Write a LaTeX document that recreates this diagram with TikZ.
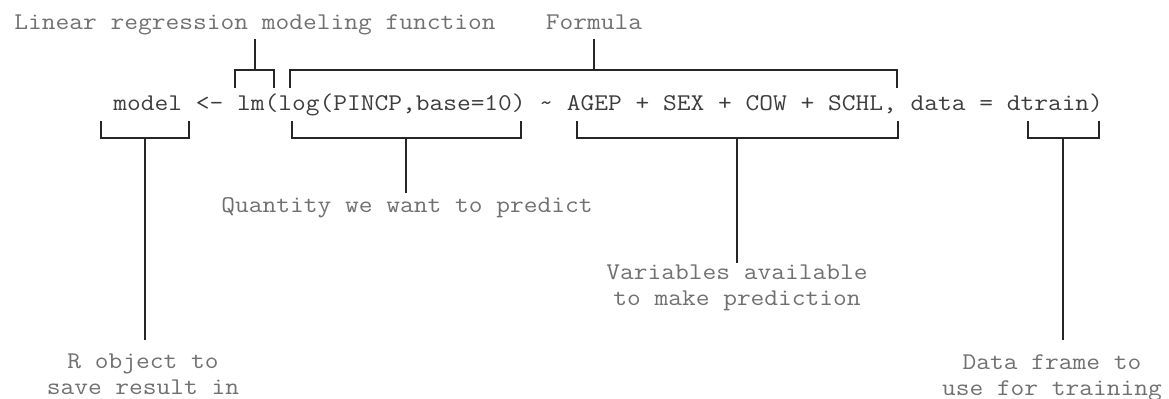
\documentclass[tikz,border=0pt]{standalone}
\usepackage{fontspec}
\setmonofont[FakeStretch=1.112]{Latin Modern Mono}
\definecolor{codegray}{HTML}{3C3C3C}
\definecolor{lblgray}{HTML}{707070}
\definecolor{linegray}{HTML}{262626}
\begin{document}
\begin{tikzpicture}[x=0.5pt, y=-0.5pt,
    every node/.style={font=\ttfamily\fontsize{12}{13}\selectfont, inner sep=0pt},
    codetext/.style={text=codegray, anchor=base west},
    lbl/.style={text=lblgray, align=center},
    brk/.style={draw=linegray, line width=1pt}]
      \useasboundingbox (0,0) rectangle (1169,399);

      % the call itself
      \node[codetext] (line) at (113,111)
        {model <- lm(log(PINCP,base=10) \textasciitilde{} AGEP + SEX + COW + SCHL, data = dtrain)};

      % labels above
      \node[lbl, anchor=base, text depth=0.25em] (fnlabel) at (255,30) {Linear regression modeling function};
      \node[lbl, anchor=base, text depth=0.25em] (fmlabel) at (594,30) {Formula};

      % labels below
      \node[lbl, anchor=north] (qlabel) at (407,197) {Quantity we want to predict};
      \node[lbl, anchor=north] (vlabel) at (737,264) {Variables available\\to make prediction};
      \node[lbl, anchor=north] (rlabel) at (143,353) {R object to\\save result in};
      \node[lbl, anchor=north] (dlabel) at (1052,354) {Data frame to\\use for training};

      % brackets
      \coordinate (fnB) at (255,70);
      \coordinate (fmB) at (594,70);
      \coordinate (rB) at (145,138);
      \coordinate (qB) at (406,138);
      \coordinate (vB) at (737,138);
      \coordinate (dB) at (1063,138);

      \draw[brk] (235,88) |- (274,70) -- (274,88);
      \draw[brk] (290,88) |- (897,70) -- (897,88);
      \draw[brk] (101,121) |- (189,138) -- (189,121);
      \draw[brk] (292,121) |- (521,138) -- (521,121);
      \draw[brk] (577,121) |- (898,138) -- (898,121);
      \draw[brk] (1028,121) |- (1099,138) -- (1099,121);

      \draw[brk, shorten >=2pt] (fnB) -- (fnB |- fnlabel.south);
      \draw[brk, shorten >=2pt] (fmB) -- (fmB |- fmlabel.south);
      \draw[brk, shorten >=2pt] (qB) -- (qB |- qlabel.north);
      \draw[brk, shorten >=0.5pt] (vB) -- (vB |- vlabel.north);
      \draw[brk, shorten >=6.5pt] (rB) -- (rB |- rlabel.north);
      \draw[brk, shorten >=7pt] (dB) -- (dB |- dlabel.north);
    \end{tikzpicture}
\end{document}
